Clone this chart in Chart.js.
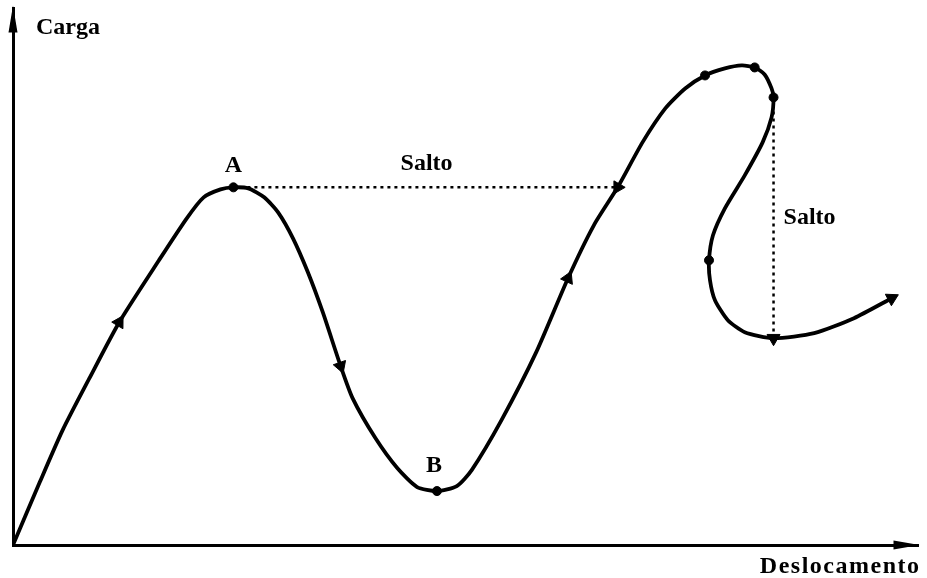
<!DOCTYPE html>
<html>
<head>
<meta charset="utf-8">
<script src="https://cdn.jsdelivr.net/npm/chart.js@4/dist/chart.umd.min.js"></script>
<style>
html,body{margin:0;padding:0;background:#fff;}
#wrap{width:927px;height:578px;position:relative;}
</style>
</head>
<body>
<div id="wrap"><canvas id="c" width="927" height="578"></canvas></div>
<script>
// Deslocamento (x) and Carga (y) of the equilibrium path
const deslocamento = [0,27,50,77,107,147,175,192,209,222,237,253,267,282,297,312,330,342,365,387,407,427,447,462,492,527,559,585,609,634,657,677,697,717,734,747,757,764,766,764,755,737,717,705,701,702,707,720,737,766,807,847,885];
const carga        = [0,63,115,167,223,285,327,348,356,358,357,348,333,307,273,233,179,147,107,77,58,54,59,75,125,193,267,320,358,403,437,457,470,477,480,478,471,457,448,428,403,370,337,310,285,265,245,225,213,207,212,227,247];
// indices of the marked points
const pontoA = 9;
const pontoB = 21;
const pontosMarcados = [9, 21, 32, 35, 38, 44];
const setas = [4, 16, 26, 28, 49, 52];
// jumps: [from index, to index]
const saltos = [[9, 28], [38, 49]];
const eixoX = 912, eixoY = 537;
const rotulos = {eixoY: 'Carga', eixoX: 'Deslocamento', A: 'A', B: 'B', salto: 'Salto'};

const curve = deslocamento.map((x, i) => ({x, y: carga[i]}));
const FONT = 'bold 24px "Liberation Serif", "Times New Roman", serif';

function angleAt(i) {
  const jump = saltos.find(s => s[1] === i);
  let a, b;
  if (jump) { a = curve[jump[0]]; b = curve[jump[1]]; }
  else { a = curve[Math.max(0, i - 1)]; b = curve[Math.min(curve.length - 1, i + 1)]; }
  return Math.atan2(b.x - a.x, b.y - a.y) * 180 / Math.PI;
}

const annot = {
  id: 'annot',
  afterDraw(chart) {
    const {ctx, chartArea: ca, scales: {x, y}} = chart;
    ctx.save();
    ctx.fillStyle = '#000';
    // axis arrowheads
    const x0 = x.getPixelForValue(0), y0 = y.getPixelForValue(0);
    ctx.beginPath();
    ctx.moveTo(x0, ca.top - 3);
    ctx.lineTo(x0 - 4.5, ca.top + 24);
    ctx.lineTo(x0 + 4.5, ca.top + 24);
    ctx.closePath(); ctx.fill();
    ctx.beginPath();
    ctx.moveTo(ca.right + 1, y0);
    ctx.lineTo(ca.right - 25, y0 - 4.5);
    ctx.lineTo(ca.right - 25, y0 + 4.5);
    ctx.closePath(); ctx.fill();
    // texts
    ctx.font = FONT;
    ctx.textBaseline = 'alphabetic';
    ctx.textAlign = 'left';
    ctx.fillText(rotulos.eixoY, x0 + 23, ca.top + 25);
    ctx.textAlign = 'right';
    ctx.letterSpacing = '1.5px';
    ctx.fillText(rotulos.eixoX, ca.right + 2, y0 + 28);
    ctx.letterSpacing = '0px';
    ctx.textAlign = 'center';
    const pA = curve[pontoA], pB = curve[pontoB];
    ctx.fillText(rotulos.A, x.getPixelForValue(pA.x), y.getPixelForValue(pA.y) - 15);
    ctx.fillText(rotulos.B, x.getPixelForValue(pB.x) - 3, y.getPixelForValue(pB.y) - 19);
    const s1 = saltos[0];
    ctx.fillText(rotulos.salto, (x.getPixelForValue(curve[s1[0]].x) + x.getPixelForValue(curve[s1[1]].x)) / 2 + 1, y.getPixelForValue(curve[s1[0]].y) - 17);
    const s2 = saltos[1];
    ctx.textAlign = 'left';
    ctx.fillText(rotulos.salto, x.getPixelForValue(curve[s2[0]].x) + 10, (y.getPixelForValue(curve[s2[0]].y) + y.getPixelForValue(curve[s2[1]].y)) / 2 + 6);
    ctx.restore();
  }
};

const datasets = [
  {
    data: curve, showLine: true, borderColor: '#000', borderWidth: 3.8,
    tension: 0.22, pointRadius: 0, order: 2
  },
  ...saltos.map(([a, b]) => ({
    data: [curve[a], curve[b]], showLine: true, borderColor: '#000', borderWidth: 2.5,
    borderDash: [3, 4], pointRadius: 0, order: 3
  })),
  {
    data: pontosMarcados.map(i => curve[i]), showLine: false,
    pointRadius: 4.5, pointBackgroundColor: '#000', pointBorderColor: '#000', order: 1
  },
  {
    data: setas.map(i => curve[i]), showLine: false,
    pointStyle: 'triangle', pointRadius: 7.5, pointBackgroundColor: '#000', pointBorderColor: '#000',
    pointBorderWidth: 1,
    pointRotation: ctx => angleAt(setas[ctx.dataIndex]), order: 0
  }
];

new Chart(document.getElementById('c'), {
  type: 'scatter',
  data: {datasets},
  options: {
    responsive: false,
    animation: false,
    events: [],
    layout: {padding: {left: 13, right: 2, top: 8, bottom: 33}},
    plugins: {legend: {display: false}, tooltip: {enabled: false}},
    scales: {
      x: {type: 'linear', min: 0, max: eixoX, ticks: {display: false}, grid: {display: false, drawTicks: false},
          border: {display: true, color: '#000', width: 3}},
      y: {type: 'linear', min: 0, max: eixoY, ticks: {display: false}, grid: {display: false, drawTicks: false},
          border: {display: true, color: '#000', width: 3}}
    }
  },
  plugins: [annot]
});
</script>
</body>
</html>
